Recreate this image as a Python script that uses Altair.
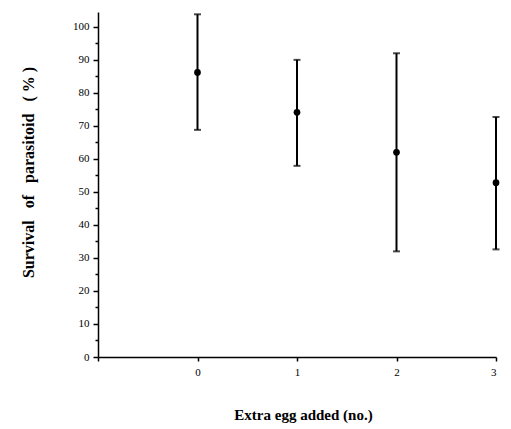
import altair as alt
import pandas as pd

eggs = [0, 1, 2, 3]
survival = [86.2, 74.1, 62.0, 52.8]
upper = [103.8, 90.0, 92.0, 72.7]
lower = [68.8, 57.9, 32.0, 32.6]

df = pd.DataFrame({"eggs": eggs, "survival": survival, "upper": upper, "lower": lower})

FONT = "Liberation Serif"
NB = "\u00a0"

x_axis = alt.Axis(
    values=[-1, 0, 1, 2, 3],
    format="d",
    labelExpr="datum.value < 0 ? '' : datum.label",
    title="Extra egg added (no.)",
    titleFont=FONT, titleFontSize=15, titleFontWeight="bold",
    titleBaseline="middle", titleY=57, titleX=205,
    labelFont=FONT, labelFontSize=11, labelColor="black",
    labelPadding=5, tickSize=4, tickColor="black", tickWidth=1.5,
    domainColor="black", domainWidth=1.5, grid=False,
)
xscale = alt.Scale(domain=[-1, 3], nice=False, zero=False)
y_title = ("Survival" + NB * 3 + "of" + NB * 3 + "parasitoid" + NB * 3
           + "(" + NB + "%" + NB + ")")
y_axis = alt.Axis(
    values=list(range(0, 105, 5)),
    labelExpr="datum.value % 10 === 0 ? datum.label : ''",
    tickSize={"expr": "datum.value % 10 === 0 ? 5 : 3"},
    title=y_title,
    titleFont=FONT, titleFontSize=16, titleFontWeight="bold",
    titleAngle=270, titleBaseline="middle", titleX=-70, titleY=160,
    labelFont=FONT, labelFontSize=11, labelColor="black", labelPadding=4,
    tickColor="black", tickWidth=1.5,
    domainColor="black", domainWidth=1.5, grid=False,
)
yscale = alt.Scale(domain=[0, 104.5], nice=False)


def X():
    return alt.X("eggs:Q", scale=xscale, axis=x_axis)


def Y(field):
    return alt.Y(field, type="quantitative", scale=yscale, axis=y_axis)


base = alt.Chart(df)
rules = base.mark_rule(color="black", strokeWidth=2).encode(
    x=X(), y=Y("lower"), y2="upper:Q"
)
cap_hi = base.mark_tick(color="black", orient="horizontal", size=7, thickness=2).encode(
    x=X(), y=Y("upper")
)
cap_lo = base.mark_tick(color="black", orient="horizontal", size=7, thickness=2).encode(
    x=X(), y=Y("lower")
)
points = base.mark_point(filled=True, color="black", size=45, opacity=1).encode(
    x=X(), y=Y("survival")
)

chart = (
    alt.layer(rules, cap_hi, cap_lo, points)
    .properties(
        width=398, height=345,
        background="white",
        autosize=alt.AutoSizeParams(type="none"),
        padding={"left": 90, "top": 4, "right": 5, "bottom": 70},
    )
    .configure_view(strokeWidth=0, stroke="transparent")
)

chart.save("out.html", embed_options={"renderer": "svg", "actions": False})
